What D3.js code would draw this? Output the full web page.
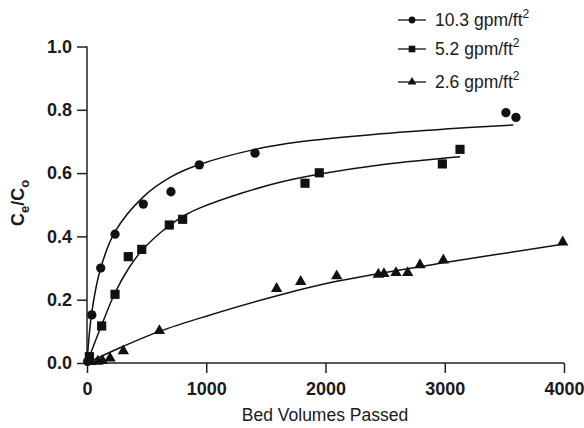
<!DOCTYPE html>
<html>
<head>
<meta charset="utf-8">
<script src="https://cdn.jsdelivr.net/npm/d3@7"></script>
<style>
  body { margin: 0; background: #fff; }
  text { font-family: "Liberation Sans", Arial, sans-serif; }
</style>
</head>
<body>
<div id="chart-area"></div>
<script>
// measured points
const circlePts = [[5, 0.005], [40, 0.152], [115, 0.30], [235, 0.407], [472, 0.502], [704, 0.541], [942, 0.626], [1409, 0.663], [3513, 0.791], [3597, 0.776]]
const squarePts = [[20, 0.02], [123, 0.117], [235, 0.217], [346, 0.336], [459, 0.359], [690, 0.436], [802, 0.454], [1828, 0.568], [1948, 0.601], [2980, 0.629], [3128, 0.675]]
const trianglePts = [[30, 0.004], [90, 0.005], [130, 0.007], [193, 0.015], [305, 0.038], [607, 0.102], [1590, 0.235], [1792, 0.257], [2094, 0.275], [2443, 0.28], [2490, 0.282], [2591, 0.285], [2689, 0.285], [2792, 0.31], [2988, 0.325], [3989, 0.382]]

// fitted lines
const circleFit = [[0, 0], [40, 0.16], [115, 0.30], [235, 0.415], [472, 0.525], [704, 0.588], [942, 0.627], [1409, 0.675], [1786, 0.699], [2457, 0.724], [3000, 0.739], [3575, 0.752]]
const squareFit = [[0, 0], [25, 0.025], [123, 0.12], [235, 0.222], [346, 0.297], [459, 0.355], [682, 0.432], [836, 0.47], [948, 0.49], [1300, 0.537], [1618, 0.571], [1954, 0.597], [2500, 0.628], [3128, 0.652]]
const triangleFit = [[0, 0], [300, 0.052], [607, 0.10], [1000, 0.148], [1618, 0.215], [2094, 0.258], [3016, 0.318], [3989, 0.375]]

const xTicks = [0, 1000, 2000, 3000, 4000]
const yTicks = [0, 0.2, 0.4, 0.6, 0.8, 1.0]
const legendLabels = ["10.3 gpm/ft", "5.2 gpm/ft", "2.6 gpm/ft"]

const svgWidth = 584
const svgHeight = 428
const margin = { left: 87, right: 20, top: 46.5, bottom: 65 }

const svg = d3.select("#chart-area")
            .append("svg")
            .attr("width", svgWidth)
            .attr("height", svgHeight)

const x = d3.scaleLinear().domain([0, 4000]).range([margin.left, 564])
const y = d3.scaleLinear().domain([0, 1]).range([363, margin.top])

// axes
const xAxis = svg.append("g")
    .attr("transform", "translate(0,363)")
    .call(d3.axisBottom(x).tickValues(xTicks).tickSize(10).tickPadding(9).tickFormat(d3.format("d")))
const yAxis = svg.append("g")
    .attr("transform", `translate(${margin.left},0)`)
    .call(d3.axisLeft(y).tickValues(yTicks).tickSize(10).tickPadding(5).tickFormat(d3.format(".1f")))

;[xAxis, yAxis].forEach(a => {
    a.select(".domain").attr("stroke", "#222").attr("stroke-width", 1.5)
    a.selectAll(".tick line").attr("stroke", "#222").attr("stroke-width", 1.5)
    a.selectAll("text")
        .attr("fill", "#1a1a1a")
        .style("font-family", "'Liberation Sans', Arial, sans-serif")
        .style("font-size", "18px")
        .style("font-weight", "bold")
})
yAxis.select(".domain").attr("d", `M0,${y(1)}V${y(0)}`)
xAxis.select(".domain").attr("d", `M${x(0)},0H${x(4000)}`)

// fitted lines
const line = d3.line().x(d => x(d[0])).y(d => y(d[1])).curve(d3.curveCatmullRom.alpha(0.5))
;[circleFit, squareFit, triangleFit].forEach(f => {
    svg.append("path")
        .datum(f)
        .attr("d", line)
        .attr("fill", "none")
        .attr("stroke", "#111")
        .attr("stroke-width", 1.5)
})

// markers
const symCircle = d3.symbol().type(d3.symbolCircle).size(68)
const symSquare = d3.symbol().type(d3.symbolSquare).size(84)
const symTriangle = d3.symbol().type(d3.symbolTriangle).size(56)
const sets = [[circlePts, symCircle], [squarePts, symSquare], [trianglePts, symTriangle]]
sets.forEach(([pts, sym]) => {
    svg.append("g").selectAll("path")
        .data(pts)
        .enter().append("path")
        .attr("transform", d => `translate(${x(d[0])},${y(d[1])})`)
        .attr("d", sym)
        .attr("fill", "#111")
})

// axis titles
svg.append("text")
    .attr("x", 325)
    .attr("y", 421)
    .attr("text-anchor", "middle")
    .attr("fill", "#1a1a1a")
    .style("font-size", "17.5px")
    .text("Bed Volumes Passed")

const yl = svg.append("text")
    .attr("transform", "translate(24,203) rotate(-90)")
    .attr("text-anchor", "middle")
    .attr("fill", "#1a1a1a")
    .style("font-size", "18px")
    .style("font-weight", "bold")
yl.append("tspan").text("C")
yl.append("tspan").attr("dy", 5).style("font-size", "13px").text("e")
yl.append("tspan").attr("dy", -5).text("/C")
yl.append("tspan").attr("dy", 5).style("font-size", "13px").text("o")

// legend
const legendY = [20, 49, 82]
const legendSyms = [d3.symbol().type(d3.symbolCircle).size(36), d3.symbol().type(d3.symbolSquare).size(44), d3.symbol().type(d3.symbolTriangle).size(34)]
legendLabels.forEach((lab, i) => {
    const g = svg.append("g").attr("transform", `translate(0,${legendY[i]})`)
    g.append("line").attr("x1", 398).attr("x2", 426).attr("y1", 0).attr("y2", 0)
        .attr("stroke", "#111").attr("stroke-width", 1.3)
    g.append("path").attr("transform", "translate(412,0)").attr("d", legendSyms[i]).attr("fill", "#111")
    const t = g.append("text").attr("x", 435).attr("y", 6)
        .attr("fill", "#1a1a1a").style("font-size", "17.5px")
    t.append("tspan").text(lab)
    t.append("tspan").attr("dy", -8).style("font-size", "12px").text("2")
})
</script>
</body>
</html>
